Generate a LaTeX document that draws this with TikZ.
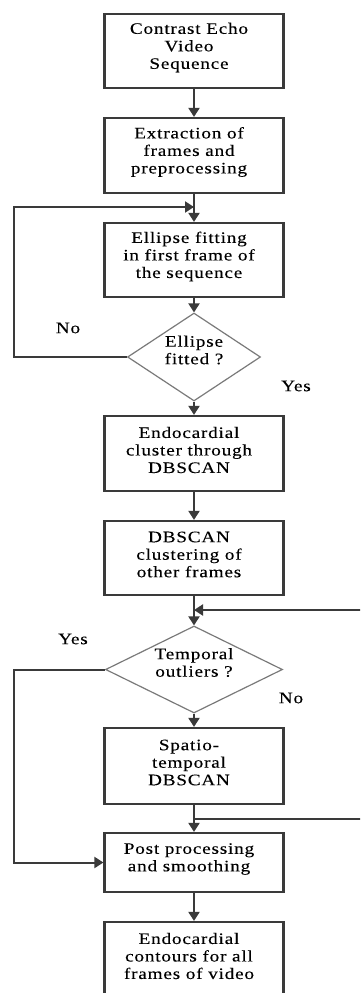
\documentclass[tikz,border=0pt]{standalone}
\usepackage{fontspec}
\setmainfont{Liberation Serif}[FakeStretch=1.2,LetterSpace=5,FakeBold=0.12]
\usetikzlibrary{shapes.geometric,arrows.meta,calc}
\definecolor{boxc}{HTML}{3A3A3A}
\definecolor{decc}{HTML}{7A7A7A}
\definecolor{linec}{HTML}{3A3A3A}
\begin{document}
\begin{tikzpicture}[x=1pt,y=-1pt,
  txt/.style={font=\fontsize{16}{17.5}\selectfont, align=center, inner sep=0pt},
  box/.style={draw=boxc, line width=2.2pt, minimum width=179pt, inner sep=0pt},
  lbl/.style={txt, xshift=-5pt, yshift=3.5pt},
  dlbl/.style={txt, yshift=7pt},
  dec/.style={diamond, draw=decc, line width=1.2pt, inner sep=0pt, aspect=2},
  conn/.style={draw=linec, line width=2pt},
  arr/.style={conn, -{Triangle[width=11pt,length=9pt]}}]
\useasboundingbox (0,0) rectangle (360,993);
\clip (0,0) rectangle (360,993);
\fill[white] (0,0) rectangle (360,993);

\node[box, minimum height=74pt, label={[lbl,name=b1t]center:{Contrast Echo\\Video\\Sequence}}] (b1) at (194,51) {};
\node[box, minimum height=75pt, label={[lbl,name=b2t]center:{Extraction of\\frames and\\preprocessing}}] (b2) at (194,155.5) {};
\node[box, minimum height=74pt, label={[lbl,name=b3t]center:{Ellipse fitting\\in first frame of\\the sequence}}] (b3) at (194,260) {};
\node[dec, minimum width=133pt, minimum height=88pt, label={[dlbl,name=d1t]center:{Ellipse\\fitted ?}}] (d1) at (194,357) {};
\node[box, minimum height=75pt, label={[lbl,name=b4t]center:{Endocardial\\cluster through\\DBSCAN}}] (b4) at (194,453.5) {};
\node[box, minimum height=74pt, label={[lbl,name=b5t]center:{DBSCAN\\clustering of\\other frames}}] (b5) at (194,558) {};
\node[dec, minimum width=177pt, minimum height=87pt, label={[dlbl,name=d2t]center:{Temporal\\outliers ?}}] (d2) at (194,669.5) {};
\node[box, minimum height=76pt, label={[lbl,name=b6t]center:{Spatio-\\temporal\\DBSCAN}}] (b6) at (194,766) {};
\node[box, minimum height=59pt, label={[lbl,name=b7t]center:{Post processing\\and smoothing}}] (b7) at (194,862.5) {};
\node[box, minimum height=75pt, label={[lbl,name=b8t]center:{Endocardial\\contours for all\\frames of video}}] (b8) at (194,959.5) {};

\node[txt] (no1) at (68,328) {No};
\node[txt] (yes1) at (296,386) {Yes};
\node[txt] (yes2) at (73,639) {Yes};
\node[txt] (no2) at (291,698) {No};

\coordinate (lx) at (14,0);
\coordinate (rx) at (362,0);
\coordinate (j1) at (194,207);
\coordinate (j2) at (194,610);
\coordinate (j3) at (194,819);

\draw[arr] (b1.south) -- (b2.north);
\draw[arr] (b2.south) -- (b3.north);
\draw[arr] (d1.west) -- (d1.west -| lx) |- (j1);
\draw[arr] (b3.south) -- (d1.north);
\draw[arr] (d1.south) -- (b4.north);
\draw[arr] (b4.south) -- (b5.north);
\draw[arr] (b5.south) -- (d2.north);
\draw[arr] (j2 -| rx) -- (j2);
\draw[arr] (d2.south) -- (b6.north);
\draw[arr] (b6.south) -- (b7.north);
\draw[conn] (j3 -| rx) -- (j3);
\draw[arr] (d2.west) -| (lx |- b7.west) -- (b7.west);
\draw[arr] (b7.south) -- (b8.north);
\end{tikzpicture}
\end{document}
